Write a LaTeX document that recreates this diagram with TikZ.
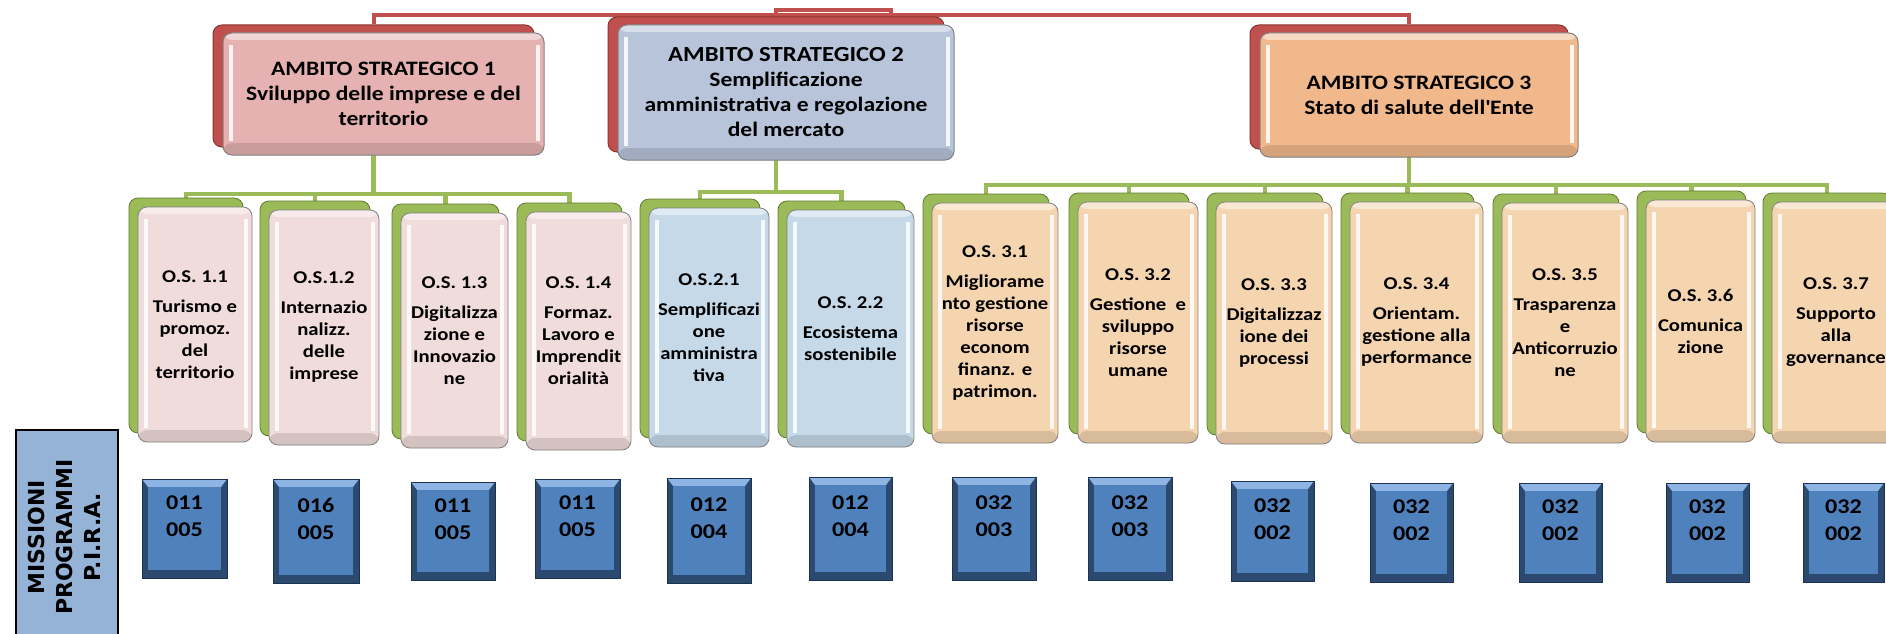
\documentclass[tikz,border=0pt]{standalone}
\usepackage{fontspec}
\setmainfont{Carlito}[FakeStretch=1.15]
\newfontfamily\lblfont{DejaVu Sans}
\usetikzlibrary{backgrounds}
\definecolor{redback}{HTML}{C0504D}
\definecolor{rededge}{HTML}{8C3330}
\definecolor{greenback}{HTML}{9BBB59}
\definecolor{greenedge}{HTML}{5F7A2A}
\definecolor{faceA}{HTML}{F0DCDA}
\definecolor{faceB}{HTML}{C5D9E8}
\definecolor{faceC}{HTML}{F5D5B0}
\definecolor{asA}{HTML}{E5B2B1}
\definecolor{asB}{HTML}{B8C4DA}
\definecolor{asC}{HTML}{F1B88C}
\definecolor{bluemid}{HTML}{4F81BD}
\definecolor{bluelight}{HTML}{8DB4E2}
\definecolor{bluedark}{HTML}{2C4A70}
\definecolor{blueedge}{HTML}{1B3251}
\definecolor{lblfill}{HTML}{95B3D7}
\newcommand\OSfont{\bfseries\fontsize{18}{22}\selectfont}
\newcommand\ASfont{\bfseries\fontsize{20.5}{25}\selectfont}
\newcommand\BLfont{\bfseries\fontsize{21}{27}\selectfont}
\tikzset{
  bevel/.style={path picture={
      \fill[#1!88!black] ([shift={(0pt,12pt)}]path picture bounding box.south west) rectangle (path picture bounding box.south east);
      \fill[white!45!#1] (path picture bounding box.north west) rectangle ([shift={(0pt,-7pt)}]path picture bounding box.north east);
      \draw[white, line width=3.5, opacity=.85] ([shift={(8pt,-12pt)}]path picture bounding box.north west) -- ([shift={(8pt,14pt)}]path picture bounding box.south west);
      \draw[white, line width=3.5, opacity=.85] ([shift={(-6pt,-12pt)}]path picture bounding box.north east) -- ([shift={(-6pt,14pt)}]path picture bounding box.south east);}},
  asback/.style={draw=rededge, line width=1, fill=redback, rounded corners=9, inner sep=0},
  asfront/.style={draw=black!50, line width=1, rounded corners=9, fill=#1, inner sep=0,
    align=center, font=\ASfont, bevel=#1},
  osback/.style={draw=greenedge, line width=0.8, fill=greenback, rounded corners=9, inner sep=0},
  osfront/.style={draw=black!50, line width=0.8, rounded corners=9, fill=#1, inner sep=0,
    align=center, font=\OSfont, bevel=#1},
  bluebox/.style={draw=blueedge, line width=0.8, fill=bluedark, inner sep=0, align=center, text depth=24pt,
    path picture={\fill[bluelight] (path picture bounding box.north west) -- (path picture bounding box.north east) -- ([shift={(-6pt,-8pt)}]path picture bounding box.north east) -- ([shift={(6pt,-8pt)}]path picture bounding box.north west) -- cycle;
      \fill[bluemid] ([shift={(6pt,-8pt)}]path picture bounding box.north west) rectangle ([shift={(-6pt,8pt)}]path picture bounding box.south east);}},
  lblbox/.style={draw=black, line width=2.5, fill=lblfill, inner sep=0, font=\lblfont\bfseries\fontsize{22}{28}\selectfont},
  redline/.style={draw=redback, line width=4},
  greenline/.style={draw=greenback, line width=4.5},
}
% name, x1, y1, x2, y2, face colour, text
\newcommand\OSbox[7]{%
  \node[osback, minimum width={#4-#2}, minimum height={#5-#3}] (#1b) at ({(#2+#4)/2-9},{(#3+#5)/2-9}) {};
  \node[osfront=#6, minimum width={#4-#2}, minimum height={#5-#3}] (#1) at ({(#2+#4)/2},{(#3+#5)/2}) {#7};}
\newcommand\ASbox[7]{%
  \node[asback, minimum width={#4-#2}, minimum height={#5-#3}] (#1b) at ({(#2+#4)/2-10},{(#3+#5)/2-8}) {};
  \node[asfront=#6, minimum width={#4-#2}, minimum height={#5-#3}] (#1) at ({(#2+#4)/2},{(#3+#5)/2}) {#7};}
\newcommand\BLbox[6]{%
  \node[bluebox, font=\BLfont, minimum width={#4-#2}, minimum height={#5-#3}] (#1) at ({(#2+#4)/2},{(#3+#5)/2}) {#6};}
\begin{document}
\begin{tikzpicture}[x=1pt,y=-1pt]
\useasboundingbox (0,0) rectangle (1886,634);
% ambiti
\ASbox{as1}{223}{33}{544}{155}{asA}{AMBITO STRATEGICO 1\\Sviluppo delle imprese e del\\territorio}
\ASbox{as2}{618}{25}{954}{160}{asB}{\fontsize{21.5}{26}\selectfont AMBITO STRATEGICO 2\\Semplificazione\\amministrativa e regolazione\\del mercato}
\ASbox{as3}{1260}{33}{1578}{157}{asC}{AMBITO STRATEGICO 3\\Stato di salute dell\textquotesingle Ente}
\coordinate (root) at (891,15);
% obiettivi
\OSbox{os11}{138}{207}{252}{442}{faceA}{O.S. 1.1\\[8pt]Turismo e\\promoz.\\del\\territorio}
\OSbox{os12}{269}{210}{379}{445}{faceA}{O.S.1.2\\[8pt]Internazio\\nalizz.\\delle\\imprese}
\OSbox{os13}{401}{213}{508}{448}{faceA}{O.S. 1.3\\[8pt]Digitalizza\\zione e\\Innovazio\\ne}
\OSbox{os14}{526}{212}{631}{450}{faceA}{O.S. 1.4\\[8pt]Formaz.\\Lavoro e\\Imprendit\\orialità}
\OSbox{os21}{649}{208}{769}{447}{faceB}{O.S.2.1\\[8pt]Semplificazi\\one\\amministra\\tiva}
\OSbox{os22}{787}{210}{914}{447}{faceB}{O.S. 2.2\\[8pt]Ecosistema\\sostenibile}
\OSbox{os31}{932}{203}{1058}{443}{faceC}{O.S. 3.1\\[8pt]Migliorame\\nto gestione\\risorse\\econom\\finanz. e\\patrimon.}
\OSbox{os32}{1078}{202}{1198}{443}{faceC}{O.S. 3.2\\[8pt]Gestione~ e\\sviluppo\\risorse\\umane}
\OSbox{os33}{1216}{202}{1332}{444}{faceC}{O.S. 3.3\\[8pt]Digitalizzaz\\ione dei\\processi}
\OSbox{os34}{1350}{202}{1483}{443}{faceC}{O.S. 3.4\\[8pt]Orientam.\\gestione alla\\performance}
\OSbox{os35}{1502}{203}{1628}{443}{faceC}{O.S. 3.5\\[8pt]Trasparenza\\e\\Anticorruzio\\ne}
\OSbox{os36}{1646}{200}{1755}{442}{faceC}{O.S. 3.6\\[8pt]Comunica\\zione}
\OSbox{os37}{1772}{202}{1900}{443}{faceC}{O.S. 3.7\\[8pt]Supporto\\alla\\governance}
% missioni / programmi
\node[lblbox, minimum width=102, minimum height=214] (lbl) at (67,537)
  {\rotatebox{90}{\begin{tabular}{@{}c@{}}MISSIONI\\PROGRAMMI\\P.I.R.A.\end{tabular}}};
\BLbox{b1}{142}{479}{227}{578}{011\\005}
\BLbox{b2}{273}{479}{359}{583}{016\\005}
\BLbox{b3}{411}{482}{495}{580}{011\\005}
\BLbox{b4}{535}{479}{620}{578}{011\\005}
\BLbox{b5}{667}{478}{751}{583}{012\\004}
\BLbox{b6}{809}{477}{892}{580}{012\\004}
\BLbox{b7}{952}{477}{1036}{580}{032\\003}
\BLbox{b8}{1088}{477}{1172}{580}{032\\003}
\BLbox{b9}{1231}{481}{1314}{581}{032\\002}
\BLbox{b10}{1370}{483}{1453}{582}{032\\002}
\BLbox{b11}{1519}{483}{1602}{582}{032\\002}
\BLbox{b12}{1666}{483}{1749}{582}{032\\002}
\BLbox{b13}{1803}{483}{1884}{582}{032\\002}
% connectors
\begin{scope}[on background layer]
  \coordinate (top) at (0,15);
  \coordinate (topB) at (0,10);
  \draw[redline] (as1b.north) -- (as1b.north |- top) -- (as3b.north |- top) -- (as3b.north);
  \draw[redline] (as2b.north) -- (as2b.north |- topB) -- (root |- topB) -- (root);
  \coordinate (bus1) at (0,194);
  \coordinate (bus2) at (0,192);
  \coordinate (bus3) at (0,185);
  \foreach \c in {os11b,os12b,os13b,os14b}
    \draw[greenline] (as1b.south) -- (as1b.south |- bus1) -| (\c.north);
  \foreach \c in {os21b,os22b}
    \draw[greenline] (as2b.south) -- (as2b.south |- bus2) -| (\c.north);
  \foreach \c in {os31b,os32b,os33b,os34b,os35b,os36b,os37b}
    \draw[greenline] (as3b.south) -- (as3b.south |- bus3) -| (\c.north);
\end{scope}
\end{tikzpicture}
\end{document}
